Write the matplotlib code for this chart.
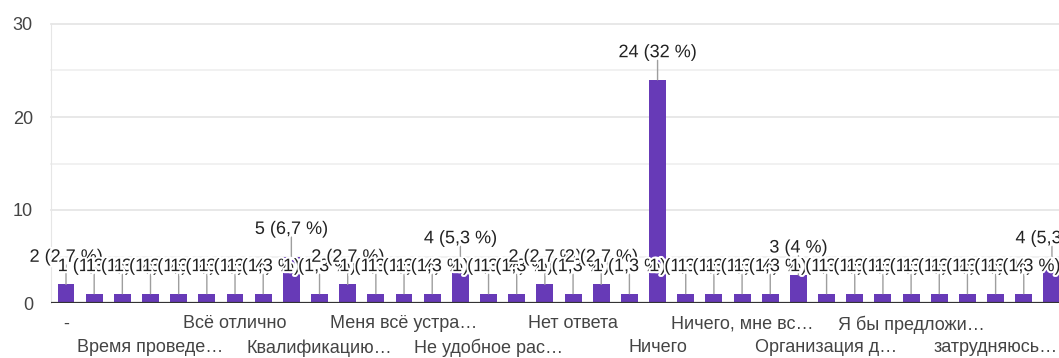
import matplotlib
matplotlib.use("Agg")
import matplotlib.pyplot as plt
import matplotlib.patheffects as pe

# Количество ответов по каждому варианту (варианты отсортированы по алфавиту)
otvety = [2, 1, 1, 1, 1, 1, 1, 1, 5, 1, 2, 1, 1, 1, 4, 1, 1, 2, 1, 2, 1, 24,
          1, 1, 1, 1, 3, 1, 1, 1, 1, 1, 1, 1, 1, 4]

# Подписи оси X (показывается каждая третья категория)
podpisi_verh = ["-", "Всё отлично", "Меня всё устра…", "Нет ответа",
                "Ничего, мне вс…", "Я бы предложи…"]
podpisi_niz = ["Время проведе…", "Квалификацию…", "Не удобное рас…", "Ничего",
               "Организация д…", "затрудняюсь…"]

vsego = sum(otvety)
fioletovyi = "#673ab7"
plt.rcParams["font.family"] = ["Liberation Sans", "DejaVu Sans"]

fig = plt.figure(figsize=(10.59, 3.58), dpi=100)
ax = fig.add_axes([51 / 1059, 55 / 358, 1 - 51 / 1059, (303 - 24) / 358])

x = list(range(len(otvety)))
ax.bar(x, otvety, width=0.6, color=fioletovyi, zorder=3)

# Сетка: основные линии через 10, вспомогательные через 5
for y in range(5, 31, 5):
    cvet = "#e4e4e4" if y % 10 == 0 else "#efefef"
    ax.axhline(y, color=cvet, lw=1.2, zorder=1, clip_on=False)
ax.axhline(0, color="#333333", lw=1.6, zorder=4)

ax.set_xlim(-15 / 28.17, (1059 - 66) / 28.17)
ax.set_ylim(0, 30)
for s in ["top", "right", "bottom"]:
    ax.spines[s].set_visible(False)
ax.spines["left"].set_color("#e6e6e6")

ax.set_yticks([0, 10, 20, 30])
ax.tick_params(axis="y", length=0, pad=13, labelsize=13, labelcolor="#444444")

# Подписи категорий в два ряда
ax.set_xticks(list(range(0, len(otvety), 6)))
ax.set_xticklabels(podpisi_verh)
ax.set_xticks(list(range(3, len(otvety), 6)), minor=True)
ax.set_xticklabels(podpisi_niz, minor=True)
ax.tick_params(axis="x", which="major", length=0, pad=9, labelsize=13,
               labelcolor="#444444")
ax.tick_params(axis="x", which="minor", length=0, pad=26, labelsize=13,
               labelcolor="#444444")

# Аннотации со значениями и процентами
halo = [pe.withStroke(linewidth=3, foreground="white")]
for i, v in enumerate(otvety):
    p = round(v / vsego * 100, 1)
    p_txt = (f"{p:.1f}".rstrip("0").rstrip(".")).replace(".", ",")
    ax.annotate("", xy=(i, v), xytext=(0, 14), textcoords="offset points",
                arrowprops=dict(arrowstyle="-", color="#9e9e9e", lw=1,
                                shrinkA=0, shrinkB=0), zorder=5)
    ax.annotate(f"{v} ({p_txt} %)", xy=(i, v), xytext=(0, 19.5),
                textcoords="offset points", ha="center", va="center",
                fontsize=13, color="#222222", path_effects=halo,
                zorder=6, annotation_clip=False)

fig.savefig("out.png", dpi=100)
